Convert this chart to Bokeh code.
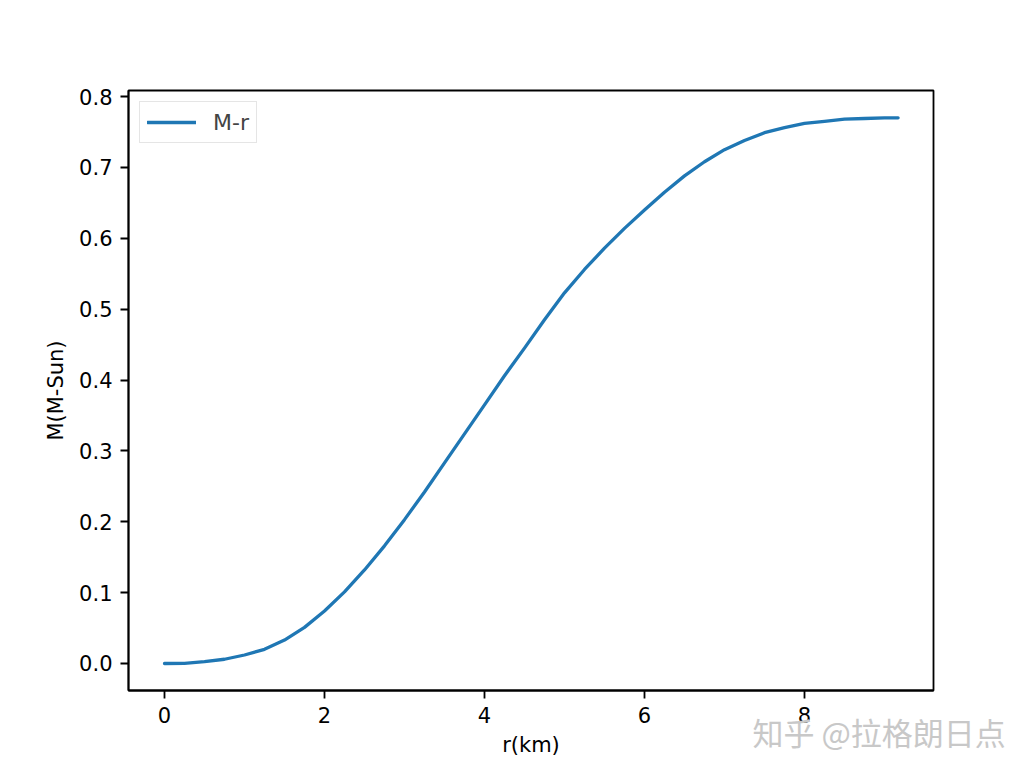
from bokeh.plotting import figure
from bokeh.models import Range1d, FixedTicker, NumeralTickFormatter, Legend, LegendItem, Title
from bokeh.embed import file_html
from bokeh.resources import INLINE

# data
r_km = [0.0, 0.25, 0.5, 0.75, 1.0, 1.25, 1.5, 1.75, 2.0, 2.25, 2.5, 2.75, 3.0, 3.25,
        3.5, 3.75, 4.0, 4.25, 4.5, 4.75, 5.0, 5.25, 5.5, 5.75, 6.0, 6.25, 6.5, 6.75,
        7.0, 7.25, 7.5, 7.75, 8.0, 8.25, 8.5, 8.75, 9.0, 9.17]
mass = [0.0, 0.0003, 0.0025, 0.006, 0.012, 0.020, 0.033, 0.051, 0.074, 0.101, 0.132,
        0.166, 0.203, 0.242, 0.283, 0.324, 0.365, 0.406, 0.445, 0.485, 0.523, 0.556,
        0.586, 0.614, 0.640, 0.665, 0.688, 0.708, 0.725, 0.738, 0.749, 0.756, 0.762,
        0.765, 0.768, 0.769, 0.770, 0.770]
x_ticks = [0, 2, 4, 6, 8]
y_ticks = [0.0, 0.1, 0.2, 0.3, 0.4, 0.5, 0.6, 0.7, 0.8]
series_name = "M-r"
x_label = "r(km)"
y_label = "M(M-Sun)"
watermark = "知乎 @拉格朗日点"

FONT = "DejaVu Sans"

p = figure(width=1032, height=775, output_backend="svg", toolbar_location=None,
           x_range=Range1d(-0.45, 9.6125), y_range=Range1d(-0.0381, 0.8085),
           min_border_left=128, min_border_right=99, min_border_top=90, min_border_bottom=85)

line = p.line(r_km, mass, line_color="#1f77b4", line_width=3.3,
              line_join="round", line_cap="round")

p.xgrid.visible = False
p.ygrid.visible = False
p.outline_line_color = "black"
p.outline_line_width = 1.8
p.outline_line_alpha = 1.0

for ax in (p.xaxis[0], p.yaxis[0]):
    ax.axis_line_color = "black"
    ax.axis_line_width = 1.8
    ax.major_tick_line_width = 1.8
    ax.major_tick_in = 0
    ax.major_tick_out = 8
    ax.minor_tick_line_color = None
    ax.major_label_text_font = FONT
    ax.major_label_text_font_size = "21px"
    ax.major_label_text_color = "black"
    ax.axis_label_text_font = FONT
    ax.axis_label_text_font_size = "21px"
    ax.axis_label_text_font_style = "normal"
    ax.axis_label_text_color = "black"

p.xaxis.ticker = FixedTicker(ticks=x_ticks)
p.yaxis.ticker = FixedTicker(ticks=y_ticks)
p.xaxis.formatter = NumeralTickFormatter(format="0")
p.yaxis.formatter = NumeralTickFormatter(format="0.0")
p.xaxis.axis_label = x_label
p.yaxis.axis_label = y_label
p.xaxis.major_label_standoff = 8
p.yaxis.major_label_standoff = 8
p.xaxis.axis_label_standoff = 7
p.yaxis.axis_label_standoff = 8

legend = Legend(items=[LegendItem(label=series_name, renderers=[line])],
                location="top_left", margin=11, padding=7, spacing=0,
                glyph_width=49, glyph_height=26, label_standoff=17,
                label_text_font=FONT, label_text_font_size="22px",
                label_height=26,
                border_line_color="#cccccc", border_line_width=1.5,
                background_fill_color="white", background_fill_alpha=0.8)
p.add_layout(legend)

# watermark: a title in the bottom panel, pulled up next to the tick labels
try:
    wm = Title(text=watermark, align="left", vertical_align="top",
               offset=624, standoff=-102,
               text_font="Noto Sans CJK SC", text_font_size="31px",
               text_font_style="normal", text_color="#c8c8c8")
    p.add_layout(wm, "below")
except Exception:
    pass

open("out.html", "w").write(file_html(p, INLINE))
